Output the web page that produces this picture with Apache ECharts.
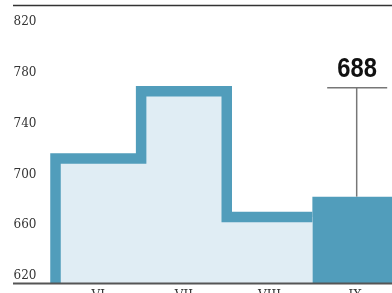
<!DOCTYPE html>
<html>
<head>
<meta charset="utf-8" />
<title>chart</title>
<script src="https://cdn.jsdelivr.net/npm/echarts@6/dist/echarts.min.js"></script>
<style>
  html, body { margin: 0; padding: 0; background: #fff; }
  #chart { width: 392px; height: 293px; }
</style>
</head>
<body>
<div id="chart"></div>
<script>
  // дані
  var months = ['VI', 'VII', 'VIII', 'IX'];
  var values = [718, 771, 672, 688];
  var yMin = 620;
  var yMax = 820;
  var yStep = 40;

  var strokeColor = '#519dbb';
  var fillColor = '#e0edf4';
  var last = values.length - 1;

  // ступінчастий контур по перших місяцях
  var outline = [[0, yMin]];
  for (var i = 0; i < last; i++) {
    outline.push([i, values[i]]);
    outline.push([i + 1, values[i]]);
  }

  // останній місяць - суцільний стовпчик
  var barData = values.map(function (v, i) {
    return i === last ? v : '-';
  });

  var myChart = echarts.init(document.getElementById('chart'));

  var option = {
    animation: false,
    grid: { left: 55.5, right: -6, top: 29, bottom: 10, outerBoundsMode: 'none', containLabel: false },
    xAxis: [
      {
        type: 'category',
        data: months,
        boundaryGap: true,
        axisLine: { show: false },
        axisTick: { show: false },
        axisLabel: {
          margin: 7,
          color: '#333',
          fontFamily: 'DejaVu Serif',
          fontSize: 12
        }
      },
      {
        type: 'value',
        min: 0,
        max: months.length,
        show: false
      }
    ],
    yAxis: {
      type: 'value',
      min: yMin,
      max: yMax,
      interval: yStep,
      axisLine: { show: false },
      axisTick: { show: false },
      splitLine: { show: false },
      axisLabel: {
        align: 'left',
        verticalAlign: 'bottom',
        margin: 42,
        color: '#333',
        fontFamily: 'DejaVu Serif',
        fontSize: 12,
        padding: [0, 0, 1, 0]
      }
    },
    series: [
      {
        type: 'bar',
        data: barData,
        barWidth: '100%',
        barCategoryGap: 0,
        itemStyle: { color: strokeColor },
        z: 1
      },
      {
        type: 'line',
        xAxisIndex: 1,
        data: outline,
        symbol: 'none',
        lineStyle: { color: strokeColor, width: 10.5, join: 'miter', cap: 'butt' },
        areaStyle: { color: fillColor, opacity: 1, origin: 'start' },
        z: 2
      }
    ]
  };

  myChart.setOption(option);

  // підпис останнього значення та лінії
  var peak = myChart.convertToPixel({ xAxisIndex: 0, yAxisIndex: 0 }, [last, values[last]]);
  var base = myChart.convertToPixel({ xAxisIndex: 0, yAxisIndex: 0 }, [0, yMin]);
  var cx = peak[0];
  var lineTop = peak[1] - 109;

  myChart.setOption({
    graphic: [
      {
        type: 'line',
        shape: { x1: 13, y1: 5.5, x2: 392, y2: 5.5 },
        style: { stroke: '#333', lineWidth: 1.5 }
      },
      {
        type: 'line',
        shape: { x1: 13, y1: base[1] + 0.5, x2: 392, y2: base[1] + 0.5 },
        style: { stroke: '#555', lineWidth: 2 },
        z: 10
      },
      {
        type: 'line',
        shape: { x1: cx + 1.5, y1: lineTop, x2: cx + 1.5, y2: peak[1] },
        style: { stroke: '#777', lineWidth: 1.5 },
        z: 10
      },
      {
        type: 'line',
        shape: { x1: cx - 28, y1: lineTop, x2: cx + 32, y2: lineTop },
        style: { stroke: '#777', lineWidth: 1.5 },
        z: 10
      },
      {
        type: 'text',
        x: cx + 2,
        y: lineTop - 5,
        scaleX: 0.88,
        style: {
          text: String(values[last]),
          fill: '#111',
          font: 'bold 27px "Liberation Sans", sans-serif',
          align: 'center',
          verticalAlign: 'bottom'
        },
        z: 10
      }
    ]
  });
</script>
</body>
</html>
